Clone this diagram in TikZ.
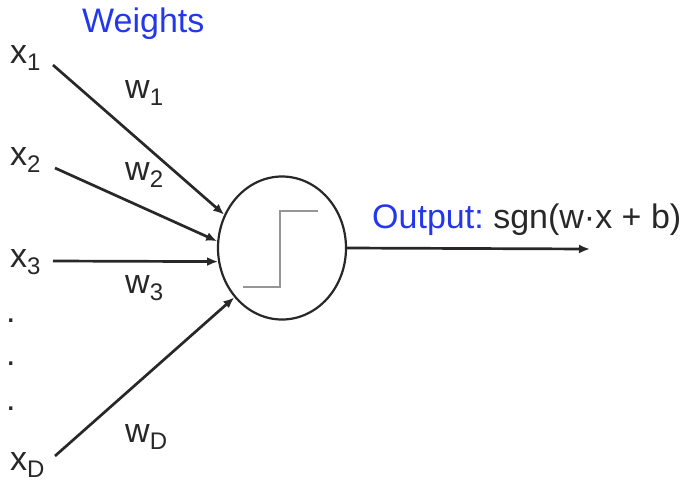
\documentclass[tikz,border=0pt]{standalone}
\usepackage{fontspec}
\setmainfont{Liberation Sans}
\usetikzlibrary{arrows.meta,shapes.geometric}
\definecolor{ink}{RGB}{40,40,40}
\definecolor{lblue}{RGB}{35,55,235}
\definecolor{stepgray}{RGB}{150,150,150}
\newcommand\lowsub[1]{\raisebox{-7pt}{\fontsize{24}{24}\selectfont #1}}
\begin{document}
\begin{tikzpicture}[x=1pt,y=-1pt,
  lbl/.style={anchor=base west,inner sep=0pt,text=ink,font=\fontsize{34}{38}\selectfont},
  wire/.style={draw=ink,line width=2.7pt,-{Latex[length=11pt,width=9pt]}},
  neuron/.style={ellipse,draw=ink,line width=2.2pt,minimum width=128pt,minimum height=143pt,inner sep=0pt}]
\useasboundingbox (0,0) rectangle (685,483);
% labels
\node[lbl,text=lblue] (weights) at (82,32) {Weights};
\node[lbl] (x1) at (10,63) {x\lowsub{1}};
\node[lbl] (x2) at (10,165) {x\lowsub{2}};
\node[lbl] (x3) at (10,267) {x\lowsub{3}};
\node[lbl] (xD) at (10,470) {x\lowsub{D}};
\node[lbl] (d1) at (6,322) {.};
\node[lbl] (d2) at (6,365) {.};
\node[lbl] (d3) at (6,410) {.};
\node[lbl] (w1) at (125,98) {w\lowsub{1}};
\node[lbl] (w2) at (125,180) {w\lowsub{2}};
\node[lbl] (w3) at (125,293) {w\lowsub{3}};
\node[lbl] (wD) at (125,442) {w\lowsub{D}};
\node[lbl] (out) at (372,228) {\textcolor{lblue}{Output:}\hspace{-3pt} sgn(w·x + b)};
% neuron
\node[neuron] (c) at (282,248) {};
\draw[stepgray,line width=2pt] ([shift={(-39,39)}]c.center) -- ([shift={(-2,39)}]c.center) -- ([shift={(-2,-37)}]c.center) -- ([shift={(36,-37)}]c.center);
% wires
\coordinate (s1) at (53,65);
\coordinate (s2) at (55,168);
\coordinate (s3) at (53,261);
\coordinate (sD) at (55,456);
\coordinate (o) at (590,249);
\draw[wire] (s1) -- (c.150);
\draw[wire] (s2) -- (c.174);
\draw[wire] (s3) -- (c.192);
\draw[wire] (sD) -- (c.226);
\draw[wire] (c.east) -- (o);
\end{tikzpicture}
\end{document}
